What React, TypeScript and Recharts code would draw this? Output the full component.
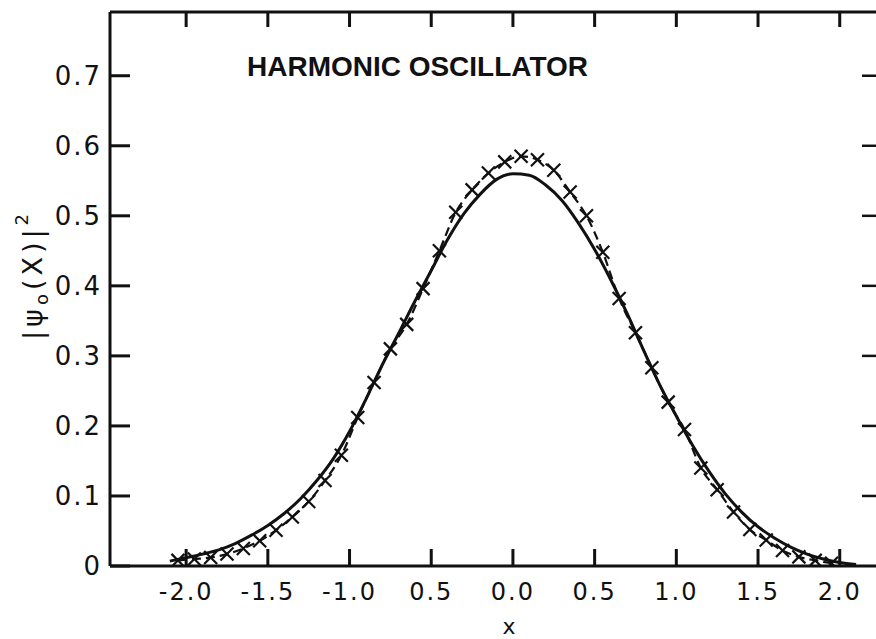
import { LineChart, Line, XAxis, YAxis } from "recharts";

// solid curve
const solidX = [
  -2.1, -2.0, -1.9, -1.8, -1.7, -1.6, -1.5, -1.4, -1.3, -1.2, -1.1, -1.0, -0.9, -0.8, -0.7, -0.6,
  -0.5, -0.4, -0.3, -0.2, -0.1, 0.0, 0.1, 0.2, 0.3, 0.4, 0.5, 0.6, 0.7, 0.8, 0.9, 1.0, 1.1, 1.2,
  1.3, 1.4, 1.5, 1.6, 1.7, 1.8, 1.9, 2.0, 2.1,
];
const solidY = [
  0.007, 0.012, 0.017, 0.023, 0.032, 0.044, 0.058, 0.075, 0.096, 0.122, 0.153, 0.192, 0.238,
  0.287, 0.332, 0.378, 0.422, 0.466, 0.503, 0.531, 0.552, 0.56, 0.558, 0.544, 0.522, 0.49, 0.452,
  0.408, 0.36, 0.308, 0.258, 0.214, 0.172, 0.135, 0.103, 0.077, 0.056, 0.04, 0.027, 0.017, 0.01,
  0.005, 0.002,
];

// dashed curve with x markers
const dashX = [
  -2.05, -1.95, -1.85, -1.75, -1.65, -1.55, -1.45, -1.35, -1.25, -1.15, -1.05, -0.95, -0.85,
  -0.75, -0.65, -0.55, -0.45, -0.35, -0.25, -0.15, -0.05, 0.05, 0.15, 0.25, 0.35, 0.45, 0.55,
  0.65, 0.75, 0.85, 0.95, 1.05, 1.15, 1.25, 1.35, 1.45, 1.55, 1.65, 1.75, 1.85, 1.95,
];
const dashY = [
  0.008, 0.01, 0.012, 0.017, 0.025, 0.036, 0.051, 0.07, 0.092, 0.122, 0.158, 0.212, 0.262, 0.31,
  0.345, 0.396, 0.45, 0.505, 0.537, 0.561, 0.577, 0.585, 0.58, 0.565, 0.534, 0.5, 0.448, 0.382,
  0.333, 0.283, 0.234, 0.195, 0.14, 0.109, 0.077, 0.052, 0.037, 0.022, 0.013, 0.008, 0.004,
];

const xTicks = [-2, -1.5, -1, -0.5, 0, 0.5, 1, 1.5, 2];
const xTickLabels = ["-2.0", "-1.5", "-1.0", "0.5", "0.0", "0.5", "1.0", "1.5", "2.0"];
const yTicks = [0, 0.1, 0.2, 0.3, 0.4, 0.5, 0.6, 0.7];
const yTickLabels = ["0", "0.1", "0.2", "0.3", "0.4", "0.5", "0.6", "0.7"];
const rightTicks = [0.1, 0.2, 0.3, 0.4, 0.5, 0.6, 0.7];

const title = "HARMONIC OSCILLATOR";
const xLabel = "x";

const solidData = solidX.map((x, i) => ({ x, y: solidY[i] }));
const dashData = dashX.map((x, i) => ({ x, y: dashY[i] }));

const ink = "#111";
const font = "'DejaVu Sans', sans-serif";
const xDomain: [number, number] = [-2.466, 2.222];
const yDomain: [number, number] = [0, 0.791];

// chart box
const W = 876;
const H = 639;
const marginTop = 11;
const topAxisH = 1;
const leftAxisW = 110;
const bottomAxisH = 73;
const plotL = leftAxisW;
const plotR = W;
const plotT = marginTop + topAxisH;
const plotB = H - bottomAxisH;
const sx = (v: number) => plotL + ((v - xDomain[0]) / (xDomain[1] - xDomain[0])) * (plotR - plotL);
const sy = (v: number) => plotB - ((v - yDomain[0]) / (yDomain[1] - yDomain[0])) * (plotB - plotT);

function BottomLabel(props: any) {
  const { x, y, payload } = props;
  const label = xTickLabels[xTicks.indexOf(payload.value)];
  return (
    <text x={x} y={y + 34} textAnchor="middle" fontFamily={font} fontSize={24} letterSpacing={2} fill={ink}>
      {label}
    </text>
  );
}

function LeftLabel(props: any) {
  const { x, y, payload } = props;
  const label = yTickLabels[yTicks.indexOf(payload.value)];
  return (
    <text x={x - 8} y={y} textAnchor="end" dominantBaseline="central" fontFamily={font} fontSize={26} letterSpacing={2} fill={ink}>
      {label}
    </text>
  );
}

function LeftwardTick(props: any) {
  const { x, y } = props;
  return <path d={`M${x},${y} L${x - 14},${y}`} stroke={ink} strokeWidth={2.5} fill="none" />;
}

function XMark(props: any) {
  const { cx, cy, index } = props;
  if (cx == null || cy == null) return null;
  const s = 6.5;
  return (
    <g key={`m${index}`}>
      <line x1={cx - s} y1={cy - s} x2={cx + s} y2={cy + s} stroke={ink} strokeWidth={2.2} />
      <line x1={cx - s} y1={cy + s} x2={cx + s} y2={cy - s} stroke={ink} strokeWidth={2.2} />
    </g>
  );
}

const plain = { tickSize: 0, tickMargin: 0, tickLine: false, interval: 0 as const, allowDataOverflow: true };

export default function App() {
  return (
    <div style={{ position: "absolute", left: 0, top: 0, width: W, height: H, background: "#fff" }}>
      <LineChart width={W} height={H} margin={{ top: marginTop, right: 0, bottom: 0, left: 0 }}>
        <XAxis
          {...plain}
          xAxisId="bottom"
          dataKey="x"
          type="number"
          domain={xDomain}
          ticks={xTicks}
          height={bottomAxisH}
          stroke={ink}
          axisLine={{ stroke: ink, strokeWidth: 3 }}
          tick={BottomLabel}
        />
        <XAxis
          {...plain}
          xAxisId="top"
          orientation="top"
          dataKey="x"
          type="number"
          domain={xDomain}
          ticks={xTicks}
          height={topAxisH}
          stroke={ink}
          axisLine={{ stroke: ink, strokeWidth: 3 }}
          tick={false}
        />
        <YAxis
          {...plain}
          yAxisId="left"
          type="number"
          domain={yDomain}
          ticks={yTicks}
          width={leftAxisW}
          stroke={ink}
          axisLine={{ stroke: ink, strokeWidth: 3 }}
          tick={LeftLabel}
        />
        <YAxis
          {...plain}
          yAxisId="right"
          orientation="right"
          mirror
          type="number"
          domain={yDomain}
          ticks={rightTicks}
          stroke={ink}
          axisLine={false}
          tick={LeftwardTick}
        />
        <Line
          xAxisId="bottom"
          yAxisId="left"
          data={solidData}
          dataKey="y"
          type="monotone"
          stroke={ink}
          strokeWidth={3}
          dot={false}
          activeDot={false}
          isAnimationActive={false}
        />
        <Line
          xAxisId="bottom"
          yAxisId="left"
          data={dashData}
          dataKey="y"
          type="monotone"
          stroke={ink}
          strokeWidth={2.2}
          strokeDasharray="9 5"
          dot={XMark}
          activeDot={false}
          isAnimationActive={false}
        />
      </LineChart>
      <svg width={W} height={H} style={{ position: "absolute", left: 0, top: 0, pointerEvents: "none" }}>
        {/* inward tick marks on the frame, drawn as filled bars */}
        <g fill={ink}>
          {xTicks.map((t) => (
            <rect key={`b${t}`} x={sx(t) - 1.5} y={plotB - 17} width={3} height={17} />
          ))}
          {xTicks.map((t) => (
            <rect key={`t${t}`} x={sx(t) - 1.5} y={plotT} width={3} height={15} />
          ))}
          {yTicks.map((t) => (
            <rect key={`l${t}`} x={plotL} y={sy(t) - 1.5} width={20} height={3} />
          ))}
        </g>
        <text
          x={247}
          y={76}
          fontFamily="'Liberation Sans', Arial, sans-serif"
          fontWeight="bold"
          fontSize={28}
          fill={ink}
          textLength={341}
          lengthAdjust="spacingAndGlyphs"
        >
          {title}
        </text>
        <text x={509} y={634} textAnchor="middle" fontFamily={font} fontSize={22} fill={ink}>
          {xLabel}
        </text>
        <text
          x={42}
          y={275}
          transform="rotate(-90 42 275)"
          textAnchor="middle"
          fontFamily={font}
          fontSize={27}
          letterSpacing={4}
          fill={ink}
        >
          |ψ<tspan fontSize={18} dy={6}>o</tspan>
          <tspan dy={-6}>(X)|</tspan>
          <tspan fontSize={18} dy={-14}>2</tspan>
        </text>
      </svg>
    </div>
  );
}
